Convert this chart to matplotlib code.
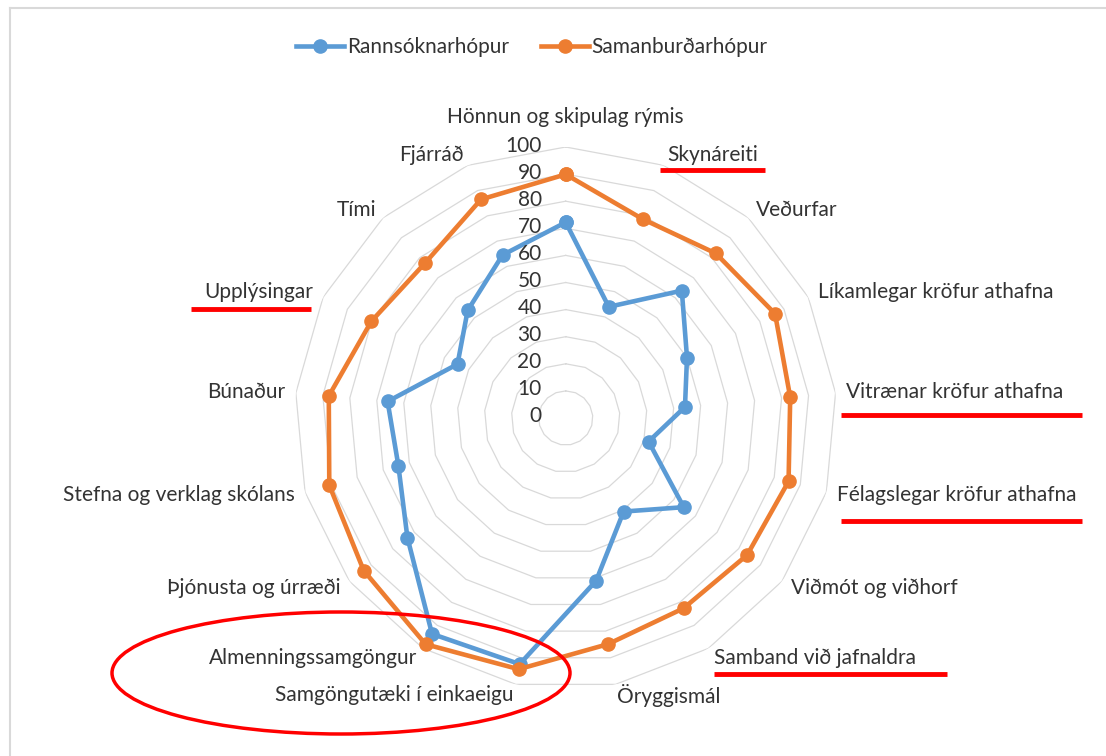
import matplotlib
matplotlib.use("Agg")
import matplotlib.pyplot as plt
import numpy as np
from matplotlib import transforms
from matplotlib.lines import Line2D
from matplotlib.patches import Ellipse

plt.rcParams["font.family"] = ["Lato", "DejaVu Sans"]

CATEGORIES = [
    "Hönnun og skipulag rýmis", "Skynáreiti", "Veðurfar",
    "Líkamlegar kröfur athafna", "Vitrænar kröfur athafna",
    "Félagslegar kröfur athafna", "Viðmót og viðhorf",
    "Samband við jafnaldra", "Öryggismál", "Samgöngutæki í einkaeigu",
    "Almenningssamgöngur", "Þjónusta og úrræði",
    "Stefna og verklag skólans", "Búnaður", "Upplýsingar", "Tími", "Fjárráð",
]
RANNSOKN = [72.2, 44.0, 63.6, 50.0, 44.2, 31.8, 54.6, 40.6, 61.1, 92.4,
            93.7, 73.2, 64.2, 66.0, 44.6, 53.7, 64.5]
SAMANBURD = [89.9, 78.7, 82.2, 86.3, 83.2, 85.5, 83.9, 82.6, 84.9, 94.3,
             98.2, 93.4, 90.7, 87.8, 80.1, 77.2, 86.5]
SERIES_NAMES = ["Rannsóknarhópur", "Samanburðarhópur"]
RINGS = list(range(10, 101, 10))
TICKS = list(range(0, 101, 10))

BLUE = "#5B9BD5"
ORANGE = "#ED7D31"
TEXT = "#333333"
GRID = "#D9D9D9"
RED = "#FF0000"
FS = 15

W, H = 1106, 756
fig = plt.figure(figsize=(W / 100, H / 100), dpi=100)


def px(x, y):
    return x / W, 1 - y / H


# chart frame (Excel chart area border, cropped on right/bottom)
fig.add_artist(Line2D([10 / W, 1], [1 - 8 / H] * 2, color=GRID, lw=1.5))
fig.add_artist(Line2D([10 / W] * 2, [0, 1 - 8 / H], color=GRID, lw=1.5))

cx, cy, R = 565.7, 418, 271
ax = fig.add_axes([(cx - R) / W, (H - cy - R) / H, 2 * R / W, 2 * R / H],
                  projection="polar")
ax.set_theta_zero_location("N")
ax.set_theta_direction(-1)
ax.set_ylim(0, 100)
ax.grid(False)
ax.spines["polar"].set_visible(False)
ax.set_xticks([])
ax.set_yticks([])
ax.patch.set_alpha(0)

n = len(CATEGORIES)
theta = np.arange(n) * 2 * np.pi / n
theta_c = np.append(theta, theta[0])

for v in RINGS:
    ax.plot(theta_c, [v] * (n + 1), color=GRID, lw=0.9, zorder=1)

for vals, col, name in [(RANNSOKN, BLUE, SERIES_NAMES[0]),
                        (SAMANBURD, ORANGE, SERIES_NAMES[1])]:
    ax.plot(theta_c, vals + vals[:1], color=col, lw=3.3, marker="o",
            markersize=9.5, label=name, zorder=3, clip_on=False)

# radial value labels
off = transforms.offset_copy(ax.transData, fig=fig, x=-24, y=1.5, units="dots")
for v in TICKS:
    ax.text(0, v, str(v), transform=off, ha="right", va="center",
            fontsize=FS, color=TEXT)

# category labels
for t, lab in zip(theta, CATEGORIES):
    s = np.sin(t)
    if abs(s) < 0.05:
        ax.text(t, 111, lab, ha="center", va="center", fontsize=FS, color=TEXT)
    else:
        ax.text(t, 104, lab, ha="left" if s > 0 else "right", va="center",
                fontsize=FS, color=TEXT)

fig.legend(loc="center", bbox_to_anchor=(532 / W, 1 - 47 / H), ncol=2,
           frameon=False, fontsize=FS, handlelength=2.3, columnspacing=1.5,
           handletextpad=0.15, labelcolor=TEXT)

# red highlight marks drawn over the chart
UNDERLINES = [(660, 765, 170), (191, 311, 309), (841, 1082, 415),
              (841, 1082, 521), (714, 947, 674)]
for x0, x1, y in UNDERLINES:
    (a, b), (c, d) = px(x0, y), px(x1, y)
    fig.add_artist(Line2D([a, c], [b, d], color=RED, lw=3.5,
                          solid_capstyle="butt"))
ex, ey = px(341, 673)
fig.add_artist(Ellipse((ex, ey), 458 / W, 122 / H, fill=False,
                       edgecolor=RED, lw=2.5, transform=fig.transFigure))

fig.savefig("out.png", dpi=100, facecolor="white")
